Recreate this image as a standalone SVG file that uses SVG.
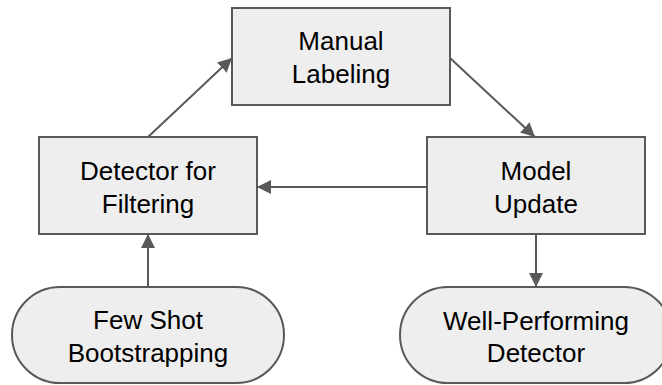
<svg xmlns="http://www.w3.org/2000/svg" width="662" height="385" viewBox="0 0 662 385">
  <style>
    .box { fill: #eeeeee; stroke: #595959; stroke-width: 2; }
    .lbl { font-family: "Liberation Sans", Arial, sans-serif; font-size: 26px; fill: #000000; text-anchor: middle; }
    .edge { stroke: #595959; stroke-width: 2; fill: none; marker-end: url(#head); }
  </style>
  <defs>
    <marker id="head" markerUnits="userSpaceOnUse" markerWidth="14" markerHeight="14" refX="14" refY="7" orient="auto">
      <path d="M0,0 L14,7 L0,14 Z" fill="#595959"/>
    </marker>
  </defs>
  <rect width="662" height="385" fill="#ffffff"/>

  <g id="connectors">
    <line class="edge" x1="148" y1="137" x2="232" y2="58"/>
    <line class="edge" x1="450" y1="58" x2="535" y2="137"/>
    <line class="edge" x1="427" y1="187" x2="257" y2="187"/>
    <line class="edge" x1="148" y1="287" x2="148" y2="234"/>
    <line class="edge" x1="536" y1="234" x2="536" y2="287"/>
  </g>

  <g id="manual-labeling">
    <rect class="box" x="232" y="8" width="218" height="97"/>
    <text class="lbl" x="341" y="50">Manual</text>
    <text class="lbl" x="341" y="83">Labeling</text>
  </g>

  <g id="detector-filtering">
    <rect class="box" x="39" y="137" width="218" height="97"/>
    <text class="lbl" x="148" y="180">Detector for</text>
    <text class="lbl" x="148" y="213">Filtering</text>
  </g>

  <g id="model-update">
    <rect class="box" x="427" y="137" width="218" height="97"/>
    <text class="lbl" x="536" y="180">Model</text>
    <text class="lbl" x="536" y="213">Update</text>
  </g>

  <g id="few-shot">
    <rect class="box" x="12" y="287" width="272" height="96" rx="48" ry="48"/>
    <text class="lbl" x="148" y="329">Few Shot</text>
    <text class="lbl" x="148" y="362">Bootstrapping</text>
  </g>

  <g id="well-performing">
    <rect class="box" x="400" y="287" width="272" height="96" rx="48" ry="48"/>
    <text class="lbl" x="536" y="330">Well-Performing</text>
    <text class="lbl" x="536" y="362">Detector</text>
  </g>
</svg>
